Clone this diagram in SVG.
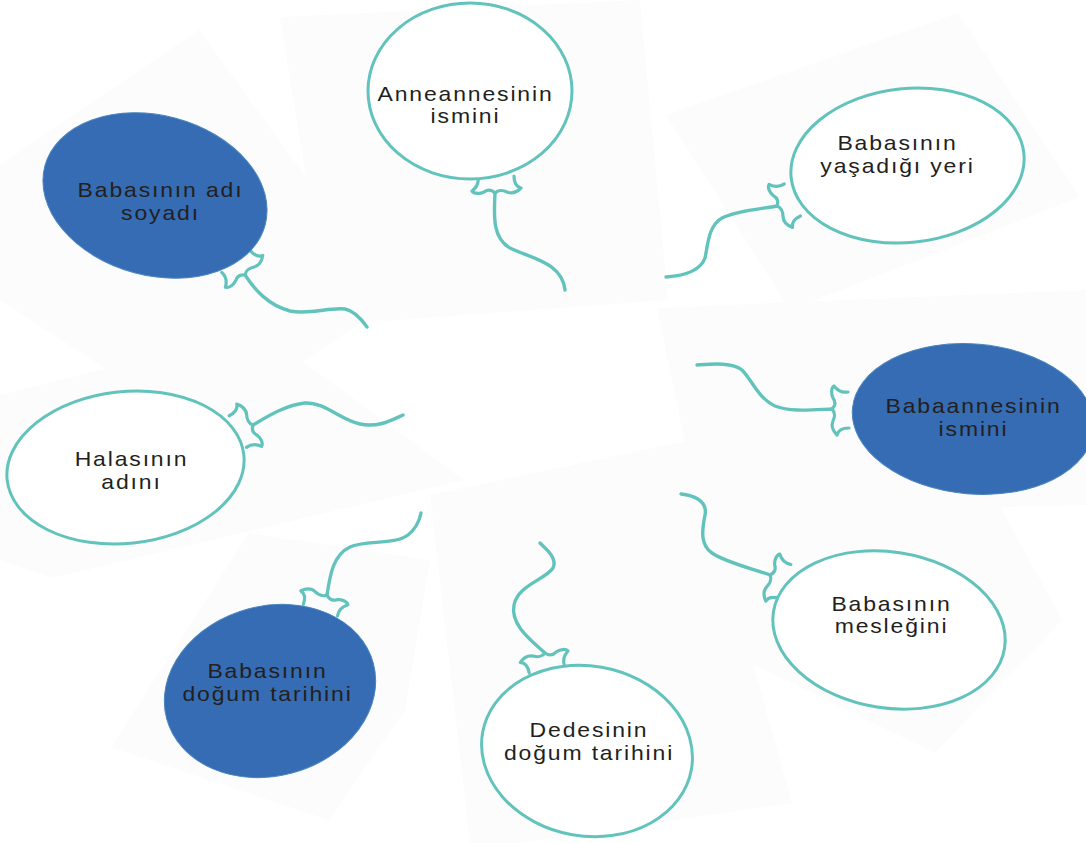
<svg xmlns="http://www.w3.org/2000/svg" width="1086" height="843" viewBox="0 0 1086 843">
<style>
.panel{fill:#fcfcfc;stroke:none}
.bw{fill:#ffffff;stroke:#62c3bc;stroke-width:3}
.bb{fill:#356cb3;stroke:#4a86bd;stroke-width:1}
.str{fill:none;stroke:#62c3bc;stroke-width:3.4;stroke-linecap:round;stroke-linejoin:round}
.knot{fill:none;stroke:#62c3bc;stroke-width:3.2;stroke-linecap:round;stroke-linejoin:round}
.t{font-family:"Liberation Sans",Arial,Helvetica,sans-serif;font-size:20px;letter-spacing:1.6px;fill:#231f20;text-anchor:middle}
</style>
<defs>
<path id="knot" d="M -17,-16 C -16,-10 -19,-5 -23,-2 C -21,1 -15,1 -11,-1 C -7,-4 -3,-3 0,0 C 3,-3 8,-3 12,-1 C 17,1 22,-1 26,-5 C 22,-6 19,-10 19,-17"/>
</defs>
<rect width="1086" height="843" fill="#ffffff"/>
<g id="background">
<polygon class="panel" points="0,165 199,30 395,300 200,430 0,300"/>
<polygon class="panel" points="280,17 640,0 668,300 330,325"/>
<polygon class="panel" points="666,115 958,13 1080,197 790,310"/>
<polygon class="panel" points="657,308 1086,290 1086,505 700,515"/>
<polygon class="panel" points="690,450 980,470 1062,620 935,753 745,660"/>
<polygon class="panel" points="430,495 690,440 792,803 520,843 470,843"/>
<polygon class="panel" points="111,747 249,533 430,560 405,710 329,820"/>
<polygon class="panel" points="0,395 260,330 464,480 52,578 0,560"/>
</g>
<g id="connectors">
<path class="str" d="M 495,193 C 494,215 492,238 510,248 C 530,258 562,262 565,290"/>
<use href="#knot" class="knot" transform="translate(495,193)"/>
<path class="str" d="M 245,275 C 255,290 268,305 290,311 C 310,315 330,307 345,309 C 355,311 362,320 367,327"/>
<use href="#knot" class="knot" transform="translate(245,275) rotate(-37)"/>
<path class="str" d="M 777,206 C 760,209 735,211 722,218 C 708,226 708,245 705,258 C 700,272 680,276 666,277"/>
<use href="#knot" class="knot" transform="translate(777,206) rotate(65)"/>
<path class="str" d="M 832,409 C 810,410 790,412 775,406 C 758,398 752,380 742,370 C 732,362 712,364 697,365"/>
<use href="#knot" class="knot" transform="translate(832,409) rotate(90)"/>
<path class="str" d="M 253,425 C 265,418 285,405 305,403 C 325,402 340,420 360,424 C 378,428 392,420 403,415"/>
<use href="#knot" class="knot" transform="translate(253,425) rotate(-117)"/>
<path class="str" d="M 327,595 C 330,575 333,555 350,547 C 365,540 395,545 408,535 C 418,527 420,518 421,513"/>
<use href="#knot" class="knot" transform="translate(327,595) rotate(200)"/>
<path class="str" d="M 545,653 C 532,641 510,625 514,605 C 518,585 545,580 553,568 C 558,558 545,548 540,543"/>
<use href="#knot" class="knot" transform="translate(545,653) rotate(170)"/>
<path class="str" d="M 770,575 C 750,568 725,562 712,553 C 700,545 702,530 705,515 C 708,500 692,495 681,494"/>
<use href="#knot" class="knot" transform="translate(770,575) rotate(110)"/>
</g>
<g id="anneannesinin">
<ellipse class="bw" cx="470" cy="91" rx="102" ry="88"/>
<text class="t" transform="translate(465.5 100.7) scale(1.15 1)">Anneannesinin</text>
<text class="t" transform="translate(465.5 123.3) scale(1.15 1)">ismini</text>
</g>
<g id="babasinin-adi">
<ellipse class="bb" cx="155" cy="195.5" rx="114" ry="80" transform="rotate(15 155 195.5)"/>
<text class="t" transform="translate(160.5 197) scale(1.15 1)">Babasının adı</text>
<text class="t" transform="translate(160.5 220) scale(1.15 1)">soyadı</text>
</g>
<g id="yasadigi-yeri">
<ellipse class="bw" cx="907.5" cy="165.5" rx="117" ry="77" transform="rotate(-6 907.5 165.5)"/>
<text class="t" transform="translate(897.5 150) scale(1.15 1)">Babasının</text>
<text class="t" transform="translate(897.5 173) scale(1.15 1)">yaşadığı yeri</text>
</g>
<g id="babaannesinin">
<ellipse class="bb" cx="973" cy="419" rx="121" ry="75" transform="rotate(5 973 419)"/>
<text class="t" transform="translate(973.5 413) scale(1.15 1)">Babaannesinin</text>
<text class="t" transform="translate(973.5 436) scale(1.15 1)">ismini</text>
</g>
<g id="halasinin">
<ellipse class="bw" cx="125.5" cy="467.5" rx="119" ry="76" transform="rotate(-6 125.5 467.5)"/>
<text class="t" transform="translate(131.5 466) scale(1.15 1)">Halasının</text>
<text class="t" transform="translate(131.5 489) scale(1.15 1)">adını</text>
</g>
<g id="babasinin-dogum">
<ellipse class="bb" cx="270" cy="691" rx="107" ry="85" transform="rotate(-15 270 691)"/>
<text class="t" transform="translate(267.5 678) scale(1.15 1)">Babasının</text>
<text class="t" transform="translate(267.5 701) scale(1.15 1)">doğum tarihini</text>
</g>
<g id="dedesinin">
<ellipse class="bw" cx="587" cy="751" rx="106" ry="85" transform="rotate(10 587 751)"/>
<text class="t" transform="translate(589 737) scale(1.15 1)">Dedesinin</text>
<text class="t" transform="translate(589 760) scale(1.15 1)">doğum tarihini</text>
</g>
<g id="meslegini">
<ellipse class="bw" cx="889" cy="630" rx="117" ry="78" transform="rotate(9 889 630)"/>
<text class="t" transform="translate(891.5 611) scale(1.15 1)">Babasının</text>
<text class="t" transform="translate(891.5 633) scale(1.15 1)">mesleğini</text>
</g>
</svg>
